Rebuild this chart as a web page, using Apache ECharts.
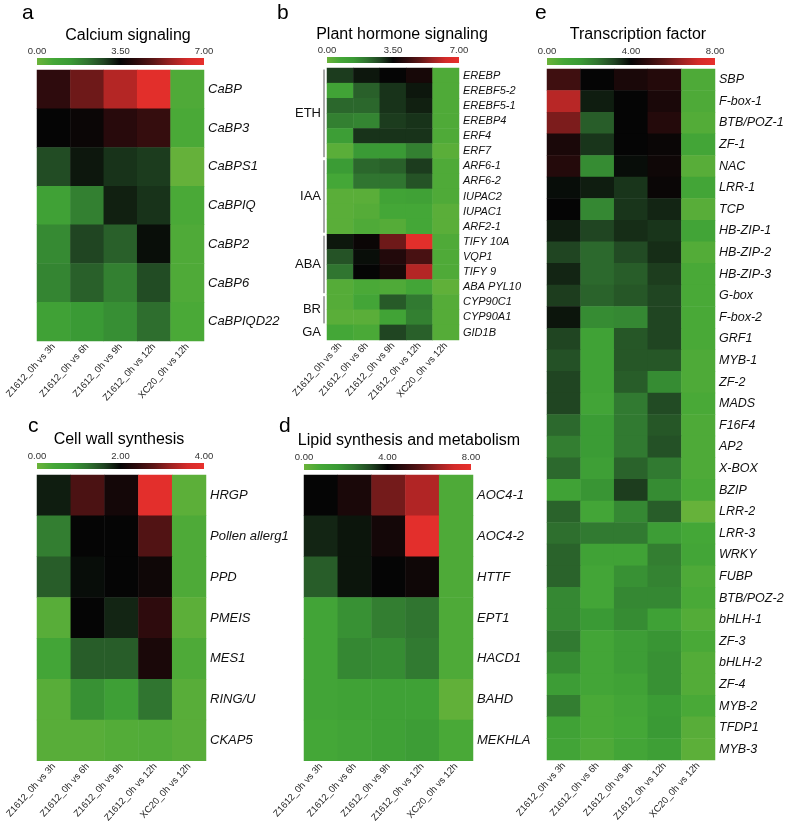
<!DOCTYPE html>
<html>
<head>
<meta charset="utf-8">
<script src="https://cdn.jsdelivr.net/npm/echarts@6/dist/echarts.min.js"></script>
<style>
  html, body { margin: 0; padding: 0; background: #fff; }
  #chart { width: 790px; height: 825px; }
</style>
</head>
<body>
<div id="chart"></div>
<script>
// column labels shared by all five heatmaps
const columns = ['Z1612_0h vs 3h', 'Z1612_0h vs 6h', 'Z1612_0h vs 9h', 'Z1612_0h vs 12h', 'XC20_0h vs 12h'];

// a - calcium signaling
const calciumGenes = ['CaBP', 'CaBP3', 'CaBPS1', 'CaBPIQ', 'CaBP2', 'CaBP6', 'CaBPIQD22'];
const calciumValues = [
  [4.2, 5.1, 5.9, 6.8, 0.5],
  [3.5, 3.6, 4.1, 4.3, 0.6],
  [2.7, 3.3, 3.0, 2.9, 0.1],
  [1.0, 1.9, 3.2, 3.0, 0.6],
  [1.7, 2.8, 2.4, 3.4, 0.5],
  [1.8, 2.4, 1.9, 2.7, 0.5],
  [1.0, 1.4, 1.6, 2.2, 0.6]
];
const calciumTicks = [0, 3.5, 7];

// b - plant hormone signaling
const hormoneGenes = ['EREBP', 'EREBF5-2', 'EREBF5-1', 'EREBP4', 'ERF4', 'ERF7',
  'ARF6-1', 'ARF6-2', 'IUPAC2', 'IUPAC1', 'ARF2-1',
  'TIFY 10A', 'VQP1', 'TIFY 9', 'ABA PYL10',
  'CYP90C1', 'CYP90A1', 'GID1B'];
const hormoneValues = [
  [2.9, 3.3, 3.5, 3.8, 0.5],
  [0.9, 2.4, 3.0, 3.3, 0.5],
  [2.3, 2.3, 3.0, 3.2, 0.5],
  [1.9, 1.8, 2.9, 3.0, 0.5],
  [1.2, 3.0, 3.0, 3.0, 0.5],
  [0.3, 1.4, 1.4, 1.9, 0.3],
  [1.3, 2.3, 2.4, 2.9, 0.5],
  [0.7, 2.1, 2.1, 2.6, 0.5],
  [0.3, 0.3, 0.9, 1.0, 0.5],
  [0.3, 0.4, 0.7, 0.7, 0.3],
  [0.3, 0.5, 0.4, 0.7, 0.3],
  [3.3, 3.6, 5.1, 6.8, 0.5],
  [2.6, 3.4, 4.0, 4.6, 0.5],
  [2.1, 3.5, 3.8, 5.9, 0.5],
  [0.4, 0.6, 0.5, 0.8, 0.2],
  [0.4, 0.8, 2.5, 2.0, 0.4],
  [0.3, 0.3, 0.9, 1.9, 0.4],
  [0.7, 0.6, 2.8, 2.4, 0.4]
];
const hormoneGroups = ['ETH', 'IAA', 'ABA', 'BR', 'GA'];
const hormoneGroupSizes = [6, 5, 4, 2, 1];
const hormoneTicks = [0, 3.5, 7];

// c - cell wall synthesis
const wallGenes = ['HRGP', 'Pollen allerg1', 'PPD', 'PMEIS', 'MES1', 'RING/U', 'CKAP5'];
const wallValues = [
  [1.85, 2.65, 2.15, 3.9, 0.15],
  [1.1, 2.0, 2.0, 2.7, 0.3],
  [1.4, 1.95, 2.0, 2.1, 0.3],
  [0.2, 2.0, 1.8, 2.4, 0.15],
  [0.45, 1.4, 1.4, 2.2, 0.3],
  [0.2, 0.9, 0.65, 1.2, 0.2],
  [0.2, 0.2, 0.25, 0.27, 0.2]
];
const wallTicks = [0, 2, 4];

// d - lipid synthesis and metabolism
const lipidGenes = ['AOC4-1', 'AOC4-2', 'HTTF', 'EPT1', 'HACD1', 'BAHD', 'MEKHLA'];
const lipidValues = [
  [4.0, 4.4, 5.9, 6.7, 0.6],
  [3.6, 3.8, 4.3, 7.8, 0.6],
  [2.8, 3.8, 4.0, 4.2, 0.6],
  [1.0, 1.8, 2.2, 2.4, 0.6],
  [1.0, 2.0, 1.9, 2.3, 0.6],
  [1.0, 1.1, 1.2, 1.2, 0.2],
  [0.8, 1.0, 1.2, 1.4, 0.7]
];
const lipidTicks = [0, 4, 8];

// e - transcription factor
const tfGenes = ['SBP', 'F-box-1', 'BTB/POZ-1', 'ZF-1', 'NAC', 'LRR-1', 'TCP', 'HB-ZIP-1',
  'HB-ZIP-2', 'HB-ZIP-3', 'G-box', 'F-box-2', 'GRF1', 'MYB-1', 'ZF-2', 'MADS',
  'F16F4', 'AP2', 'X-BOX', 'BZIP', 'LRR-2', 'LRR-3', 'WRKY', 'FUBP',
  'BTB/POZ-2', 'bHLH-1', 'ZF-3', 'bHLH-2', 'ZF-4', 'MYB-2', 'TFDP1', 'MYB-3'];
const tfValues = [
  [5.1, 4.0, 4.4, 4.6, 0.6],
  [6.8, 3.7, 4.0, 4.4, 0.6],
  [6.0, 2.8, 4.0, 4.6, 0.5],
  [4.4, 3.4, 4.0, 4.1, 0.9],
  [4.6, 1.9, 3.9, 4.2, 0.4],
  [3.9, 3.7, 3.4, 4.1, 0.9],
  [4.0, 2.0, 3.4, 3.6, 0.4],
  [3.7, 3.2, 3.5, 3.4, 1.0],
  [3.2, 2.6, 3.1, 3.5, 0.5],
  [3.6, 2.6, 2.8, 3.3, 0.7],
  [3.3, 2.7, 2.9, 3.2, 0.7],
  [3.8, 1.9, 2.0, 3.2, 0.7],
  [3.2, 1.1, 2.9, 3.2, 0.7],
  [3.0, 1.1, 2.9, 2.9, 0.6],
  [3.2, 1.1, 2.8, 1.9, 0.6],
  [3.2, 1.0, 2.3, 3.1, 0.7],
  [2.6, 1.5, 2.3, 2.9, 0.6],
  [2.2, 1.5, 2.3, 3.0, 0.6],
  [2.6, 1.3, 2.7, 2.3, 0.6],
  [1.1, 1.7, 3.3, 1.9, 0.7],
  [2.7, 0.9, 2.0, 2.8, 0.1],
  [2.5, 2.3, 2.3, 1.4, 0.8],
  [2.7, 1.1, 1.1, 2.2, 0.9],
  [2.7, 0.9, 1.8, 2.1, 0.6],
  [2.0, 0.9, 2.0, 2.0, 0.7],
  [2.0, 1.6, 1.9, 1.2, 0.5],
  [2.3, 0.9, 1.4, 1.7, 0.7],
  [1.9, 0.9, 1.4, 1.8, 0.5],
  [1.4, 0.9, 1.1, 1.8, 0.5],
  [2.2, 0.7, 0.9, 1.5, 0.7],
  [1.1, 0.7, 0.8, 1.6, 0.4],
  [1.0, 0.6, 0.9, 1.3, 0.3]
];
const tfTicks = [0, 4, 8];

// green - black - red scale
const palette = ['#6bb33a', '#44a737', '#3a9a35', '#307530', '#204522', '#050505',
  '#2e0b0d', '#5c1616', '#9c2222', '#d42b2a', '#e8302c'];

const FONT = '"Liberation Sans", Arial, sans-serif';

// layout of the five panels
const panels = [
  { letter: 'a', title: 'Calcium signaling', genes: calciumGenes, values: calciumValues, ticks: calciumTicks,
    grid: { left: 37, top: 70, width: 167, height: 271 }, bar: { left: 37, top: 58, width: 167, height: 7 },
    labelSize: 13, titleX: 128, titleY: 28, letterX: 22, letterY: 3 },
  { letter: 'b', title: 'Plant hormone signaling', genes: hormoneGenes, values: hormoneValues, ticks: hormoneTicks,
    grid: { left: 327, top: 68, width: 132, height: 272 }, bar: { left: 327, top: 57, width: 132, height: 6 },
    labelSize: 11, titleX: 402, titleY: 27, letterX: 277, letterY: 3 },
  { letter: 'c', title: 'Cell wall synthesis', genes: wallGenes, values: wallValues, ticks: wallTicks,
    grid: { left: 37, top: 475, width: 169, height: 286 }, bar: { left: 37, top: 463, width: 167, height: 6 },
    labelSize: 13, titleX: 119, titleY: 432, letterX: 28, letterY: 416 },
  { letter: 'd', title: 'Lipid synthesis and metabolism', genes: lipidGenes, values: lipidValues, ticks: lipidTicks,
    grid: { left: 304, top: 475, width: 169, height: 286 }, bar: { left: 304, top: 464, width: 167, height: 6 },
    labelSize: 13, titleX: 409, titleY: 433, letterX: 279, letterY: 416 },
  { letter: 'e', title: 'Transcription factor', genes: tfGenes, values: tfValues, ticks: tfTicks,
    grid: { left: 547, top: 69, width: 168, height: 691 }, bar: { left: 547, top: 58, width: 168, height: 7 },
    labelSize: 12.5, titleX: 638, titleY: 27, letterX: 535, letterY: 3 }
];

const gradient = {
  type: 'linear', x: 0, y: 0, x2: 1, y2: 0,
  colorStops: palette.map((c, i) => ({ offset: i / (palette.length - 1), color: c }))
};

const grid = [], xAxis = [], yAxis = [], series = [], visualMap = [], graphic = [];

panels.forEach((p, i) => {
  const max = p.ticks[p.ticks.length - 1];

  // heatmap grid
  grid.push(Object.assign({ containLabel: false }, p.grid));
  xAxis.push({
    type: 'category', gridIndex: 2 * i, data: columns,
    axisLine: { show: false }, axisTick: { show: false }, splitLine: { show: false },
    axisLabel: { interval: 0, rotate: 48, fontSize: 9.5, margin: 4, color: '#222', fontFamily: FONT }
  });
  yAxis.push({
    type: 'category', gridIndex: 2 * i, data: p.genes, inverse: true, position: 'right',
    axisLine: { show: false }, axisTick: { show: false }, splitLine: { show: false },
    axisLabel: { interval: 0, fontSize: p.labelSize, fontStyle: 'italic', margin: 4, color: '#111', fontFamily: FONT }
  });

  // colour bar grid
  grid.push(Object.assign({ show: true, backgroundColor: gradient, borderWidth: 0 }, p.bar));
  xAxis.push({
    type: 'value', gridIndex: 2 * i + 1, position: 'top',
    min: p.ticks[0], max: max, interval: p.ticks[1] - p.ticks[0],
    axisLine: { show: false }, axisTick: { show: false }, splitLine: { show: false },
    axisLabel: { fontSize: 9.5, margin: 2, color: '#333', fontFamily: FONT, formatter: v => v.toFixed(2) }
  });
  yAxis.push({ type: 'value', gridIndex: 2 * i + 1, show: false });

  const data = [];
  p.values.forEach((row, y) => row.forEach((v, x) => data.push([x, y, v])));
  series.push({
    type: 'heatmap', xAxisIndex: 2 * i, yAxisIndex: 2 * i, data: data,
    itemStyle: { borderWidth: 0 }, emphasis: { disabled: true }
  });
  visualMap.push({
    type: 'continuous', show: false, seriesIndex: i, min: 0, max: max,
    inRange: { color: palette }
  });

  graphic.push({
    type: 'text', left: p.letterX, top: p.letterY,
    style: { text: p.letter, fontSize: 21, fontFamily: FONT, fill: '#000' }
  });
  graphic.push({
    type: 'text', x: p.titleX, y: p.titleY,
    style: { text: p.title, fontSize: 16, fontFamily: FONT, fill: '#000', align: 'center', verticalAlign: 'top' }
  });
});

// hormone group brackets in panel b
const bGrid = panels[1].grid;
const rowH = bGrid.height / hormoneGenes.length;
let start = 0;
hormoneGroups.forEach((name, gi) => {
  const n = hormoneGroupSizes[gi];
  const y0 = bGrid.top + start * rowH;
  const y1 = bGrid.top + (start + n) * rowH;
  if (n > 1) {
    graphic.push({
      type: 'line', shape: { x1: bGrid.left - 3, y1: y0 + 1.5, x2: bGrid.left - 3, y2: y1 - 1.5 },
      style: { stroke: '#555', lineWidth: 1 }
    });
  }
  graphic.push({
    type: 'text', x: bGrid.left - 6, y: (y0 + y1) / 2,
    style: { text: name, fontSize: 13, fontFamily: FONT, fill: '#111', align: 'right', verticalAlign: 'middle' }
  });
  start += n;
});

const chart = echarts.init(document.getElementById('chart'), null, { renderer: 'canvas' });
chart.setOption({
  backgroundColor: '#fff',
  animation: false,
  grid, xAxis, yAxis, series, visualMap, graphic
});
</script>
</body>
</html>
